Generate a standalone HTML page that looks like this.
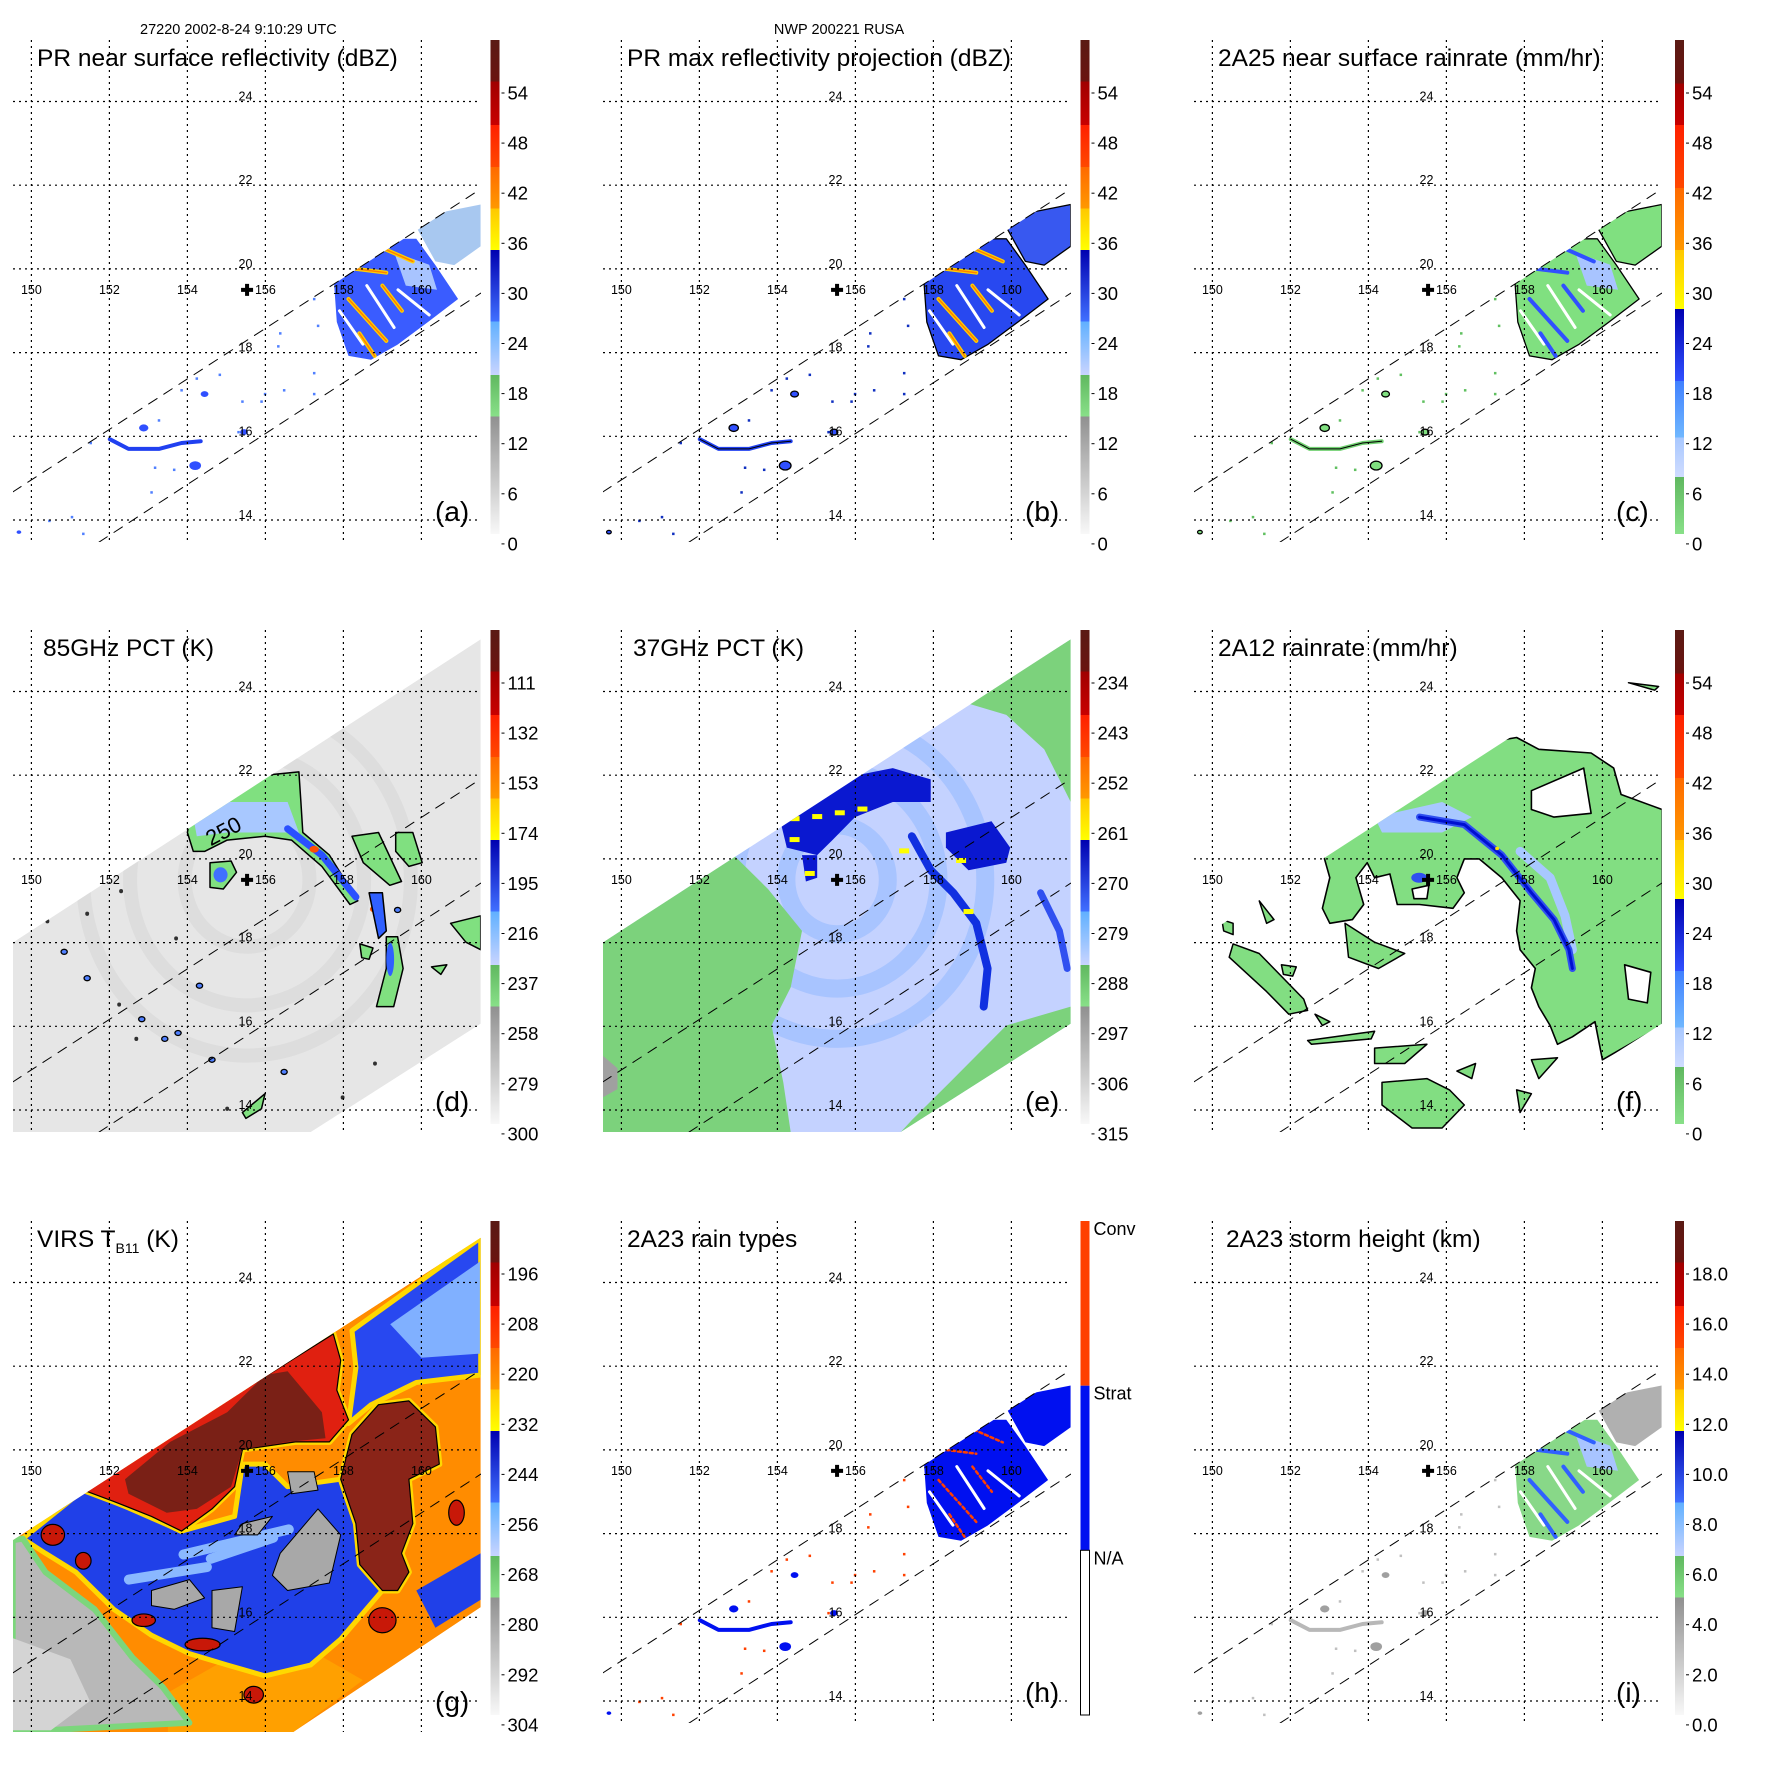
<!DOCTYPE html>
<html><head><meta charset="utf-8"><style>
html,body{margin:0;padding:0;background:#fff;}
svg{display:block;font-family:"Liberation Sans",Arial,sans-serif;}
</style></head><body>
<svg id="root" width="1771" height="1771" viewBox="0 0 1771 1771" xmlns="http://www.w3.org/2000/svg">
<defs>
<linearGradient id="g-refl" x1="0" y1="0" x2="0" y2="1">
<stop offset="0" stop-color="#5a1a14"/><stop offset="0.084" stop-color="#6a1410"/>
<stop offset="0.084" stop-color="#a00000"/><stop offset="0.172" stop-color="#c80000"/>
<stop offset="0.172" stop-color="#ff2000"/><stop offset="0.257" stop-color="#ff4800"/>
<stop offset="0.257" stop-color="#ff6a00"/><stop offset="0.341" stop-color="#ff9800"/>
<stop offset="0.341" stop-color="#ffc800"/><stop offset="0.425" stop-color="#ffff00"/>
<stop offset="0.425" stop-color="#0000b0"/><stop offset="0.57" stop-color="#4070ff"/>
<stop offset="0.57" stop-color="#60b0ff"/><stop offset="0.678" stop-color="#c8d4ff"/>
<stop offset="0.678" stop-color="#60b860"/><stop offset="0.762" stop-color="#88e088"/>
<stop offset="0.762" stop-color="#909090"/><stop offset="1" stop-color="#f8f8f8"/>
</linearGradient>
<linearGradient id="g-rain" x1="0" y1="0" x2="0" y2="1">
<stop offset="0" stop-color="#5a1a14"/><stop offset="0.088" stop-color="#6a1410"/>
<stop offset="0.088" stop-color="#a00000"/><stop offset="0.172" stop-color="#c80000"/>
<stop offset="0.172" stop-color="#ff2000"/><stop offset="0.30" stop-color="#ff4800"/>
<stop offset="0.30" stop-color="#ff6a00"/><stop offset="0.425" stop-color="#ff9800"/>
<stop offset="0.425" stop-color="#ffc800"/><stop offset="0.545" stop-color="#ffff00"/>
<stop offset="0.545" stop-color="#0000b0"/><stop offset="0.69" stop-color="#3050ff"/>
<stop offset="0.69" stop-color="#4080ff"/><stop offset="0.805" stop-color="#70b8ff"/>
<stop offset="0.805" stop-color="#a8c8ff"/><stop offset="0.885" stop-color="#d0dcff"/>
<stop offset="0.885" stop-color="#60b860"/><stop offset="1" stop-color="#88e088"/>
</linearGradient>
</defs>
</svg>
<script>
const NS='http://www.w3.org/2000/svg';
const root=document.getElementById('root');
const lonTicks=[150,152,154,156,158,160];
const latTicks=[14,16,18,20,22,24];
const lblRefl=['54','48','42','36','30','24','18','12','6','0'];
const lblD=['111','132','153','174','195','216','237','258','279','300'];
const lblE=['234','243','252','261','270','279','288','297','306','315'];
const lblG=['196','208','220','232','244','256','268','280','292','304'];
const lblI=['18.0','16.0','14.0','12.0','10.0','8.0','6.0','4.0','2.0','0.0'];
const lblH=['Conv','Strat','N/A'];
const center=[155.53,19.5];
const prUpper=[[149.52,14.67],[161.52,21.91]];
const prLower=[[151.73,13.47],[161.52,19.42]];
const prSwath=[[149.52,14.67],[161.52,21.91],[161.52,19.42],[151.73,13.47],[149.52,13.47]];
const mwSwath=[[149.52,18.0],[161.52,25.25],[161.52,16.06],[157.16,13.47],[149.52,13.47]];
const virsSwath=[[149.52,17.84],[161.52,25.07],[161.52,16.24],[156.72,13.26],[149.52,13.26]];
const prCluster=[[157.74,19.91],[158.32,20.18],[159.29,20.72],[159.87,20.72],[160.36,20.09],[160.94,19.28],[160.17,18.73],[159.39,18.19],[158.71,17.83],[158.13,17.92],[157.83,18.73]];
const prTopRight=[[159.87,21.0],[160.55,21.36],[161.52,21.54],[161.52,20.54],[160.84,20.09],[160.36,20.18]];
const prStreaks=[[[158.9,20.54],[159.78,20.18]],[[158.32,20.0],[159.1,19.91]],[[158.13,19.28],[159.1,18.28]],[[158.41,18.46],[158.8,17.92]],[[159.0,19.6],[159.5,19.0]]];
const prGaps=[[[157.9,19.0],[158.5,18.2]],[[159.4,19.5],[160.2,18.9]],[[158.6,19.6],[159.3,18.6]]];
const prArc=[[152.01,15.93],[152.49,15.7],[153.27,15.7],[153.85,15.84],[154.34,15.88]];
const prBlobs=[[152.88,16.2,0.12],[154.44,17.87,0.08],[154.44,17.01,0.1],[152.4,16.52,0.06],[154.2,15.3,0.15],[149.68,13.71,0.06],[155.45,16.1,0.1]];
const prDots=[[157.25,19.28],[157.35,18.64],[157.25,17.51],[156.38,18.46],[156.33,18.15],[155.99,17.01],[155.9,16.83],[155.41,16.83],[155.31,16.1],[155.02,18.1],[154.24,17.38],[153.85,17.1],[153.66,17.38],[153.27,16.38],[153.17,15.25],[153.66,15.2],[153.08,14.66],[151.52,15.84],[150.46,13.98],[151.04,14.07],[151.33,13.67],[157.25,17.01],[155.6,18.46],[154.83,17.47],[156.48,17.1]];
const dMain=[[154.05,20.9],[155.89,21.99],[156.86,22.08],[156.91,21.36],[156.96,20.63],[157.64,20.09],[158.37,19.0],[158.17,18.91],[157.45,19.82],[156.67,20.45],[155.99,20.54],[155.02,20.45],[154.44,20.18],[154.15,20.18],[154.0,20.63]];
const dMainBlue=[[154.15,21.0],[155.02,21.36],[156.57,21.36],[156.86,20.63],[155.99,20.63],[155.02,20.63],[154.24,20.54]];
const dArc=[[156.57,20.72],[157.45,20.09],[158.32,19.09]];
const dHot=[[157.25,20.23],[158.8,18.8],[159.2,17.7]];
const dBlobs=[
[[154.58,19.91],[155.12,19.95],[155.26,19.68],[154.92,19.28],[154.58,19.32]],
[[158.22,20.54],[158.9,20.63],[159.49,19.46],[159.19,19.37],[158.51,19.91]],
[[159.34,20.63],[159.78,20.63],[160.02,19.91],[159.68,19.82],[159.34,20.18]],
[[158.66,19.19],[159.0,19.19],[159.1,18.28],[158.9,18.1],[158.76,18.73]],
[[159.1,18.14],[159.39,18.14],[159.53,17.38],[159.29,16.47],[158.85,16.47],[159.1,17.38]],
[[160.75,18.46],[161.52,18.64],[161.52,17.83],[161.14,18.01]],
[[158.42,17.97],[158.76,17.87],[158.66,17.6],[158.47,17.64]],
[[155.41,13.94],[155.99,14.39],[155.9,14.03],[155.5,13.8]],
[[160.26,17.42],[160.65,17.47],[160.5,17.24]]];
const dSmall=[[150.84,17.78],[151.43,17.15],[154.31,16.97],[154.63,15.2],[153.76,15.84],[153.42,15.7],[152.83,16.17],[156.48,14.91],[159.39,18.78]];
const dDark=[[152.3,19.23],[151.43,18.69],[150.41,18.51],[153.71,18.1],[152.25,16.52],[152.69,15.7],[155.02,14.03],[157.98,14.3],[158.81,15.11]];
const eGreenL=[[149.52,18.0],[152.88,20.09],[153.76,19.28],[154.63,18.28],[154.34,16.93],[153.85,16.02],[154.15,14.66],[154.34,13.47],[149.52,13.47]];
const eGreenTR=[[158.9,23.71],[161.52,25.25],[161.52,21.36],[160.84,22.62],[159.87,23.44]];
const eGreenBR=[[157.16,13.47],[161.52,16.06],[161.52,16.47],[159.87,16.02],[158.42,14.66],[157.45,13.76]];
const eDark=[[154.05,21.0],[154.83,21.36],[155.99,21.99],[156.96,22.17],[157.93,21.9],[157.93,21.36],[156.96,21.36],[155.99,21.0],[155.41,20.45],[155.02,20.09],[154.63,20.18],[154.24,20.27]];
const eLobe=[[154.63,20.09],[155.02,20.09],[155.02,19.55],[154.73,19.46]];
const eDarkR=[[158.32,20.63],[159.49,20.9],[159.97,20.27],[159.87,19.91],[158.9,19.73],[158.32,20.27]];
const eArc=[[157.45,20.54],[157.93,19.73],[158.51,19.19],[159.1,18.46],[159.39,17.38],[159.29,16.47]];
const eArc2=[[160.75,19.19],[161.23,18.28],[161.43,17.38]];
const eYellow=[[154.44,20.95],[155.02,21.0],[155.6,21.09],[156.18,21.18],[154.44,20.45],[154.83,19.64],[157.25,20.18],[158.71,19.95],[158.9,18.73]];
const fMain=[[152.82,20.18],[157.22,22.81],[157.8,22.9],[158.37,22.62],[159.71,22.53],[160.29,22.17],[160.48,21.54],[161.53,21.18],[161.53,16.02],[160.0,15.2],[159.81,16.11],[159.23,15.75],[158.85,15.57],[158.66,16.02],[158.37,16.47],[158.18,16.92],[158.28,17.38],[157.89,17.83],[157.8,18.28],[157.89,19.0],[157.42,19.55],[156.84,20.0],[156.46,20.0],[156.27,19.55],[156.46,19.19],[156.17,18.82],[155.31,18.91],[154.74,18.91],[154.55,19.64],[154.16,19.55],[153.97,19.91],[153.68,19.55],[153.88,18.91],[153.59,18.55],[153.01,18.46],[152.82,18.82],[153.01,19.55]];
const fHoles=[[[158.18,21.63],[159.52,22.17],[159.71,21.09],[158.76,21.0],[158.18,21.18]],[[160.57,17.47],[161.24,17.29],[161.15,16.56],[160.67,16.65]],[[155.12,19.28],[155.55,19.37],[155.5,19.05],[155.17,19.05]]];
const fLight=[[154.16,21.0],[155.89,21.36],[156.65,21.0],[155.89,20.63],[154.35,20.63]];
const fArc=[[155.31,21.0],[156.46,20.82],[157.42,20.09],[158.18,19.19],[158.76,18.55],[159.14,17.83],[159.23,17.38]];
const fArc2=[[157.89,20.18],[158.66,19.55],[159.04,18.64],[159.23,17.83]];
const fIslands=[
[[150.53,17.97],[151.2,17.74],[152.34,16.65],[152.44,16.38],[151.96,16.29],[151.39,16.83],[150.43,17.65]],
[[152.44,15.66],[154.16,15.88],[154.07,15.7],[152.54,15.57]],
[[154.16,15.48],[155.5,15.57],[154.93,15.11],[154.16,15.11]],
[[154.35,14.66],[155.5,14.75],[156.08,14.48],[156.46,14.12],[155.89,13.57],[155.12,13.57],[154.35,14.12]],
[[156.27,14.93],[156.75,15.11],[156.65,14.75]],
[[157.8,14.48],[158.18,14.39],[157.89,13.94]],
[[158.18,15.2],[158.85,15.25],[158.37,14.75]],
[[153.4,18.46],[154.16,18.01],[154.93,17.74],[154.26,17.38],[153.49,17.65]],
[[150.24,18.55],[150.53,18.46],[150.53,18.19],[150.29,18.28]],
[[151.77,17.47],[152.15,17.42],[152.06,17.2],[151.82,17.24]],
[[152.63,16.29],[153.01,16.11],[152.82,16.02]],
[[160.67,24.21],[161.44,24.12],[161.34,24.03]],
[[151.2,19.0],[151.58,18.55],[151.39,18.46]]];
const gGray=[[149.52,17.84],[149.78,17.88],[150.36,17.08],[151.62,16.19],[152.59,15.04],[153.37,14.33],[154.05,13.48],[149.52,13.26]];
const gBlue=[[149.78,17.88],[151.33,19.04],[152.11,18.77],[153.85,18.06],[155.21,18.41],[155.41,19.66],[155.99,19.66],[156.57,19.12],[157.93,19.3],[158.32,18.24],[158.42,17.26],[159.0,16.64],[157.93,15.48],[157.16,14.86],[155.99,14.6],[155.02,14.86],[154.05,15.13],[153.08,15.57],[152.11,16.19],[151.14,17.08],[150.36,17.53]];
const gBlueTR=[[158.22,22.85],[161.52,25.07],[161.52,21.79],[159.87,21.61],[158.71,21.08],[158.13,20.63],[158.32,21.97]];
const gBlueBR=[[159.87,16.64],[161.52,17.53],[161.52,16.42],[160.36,15.75]];
const gRed=[[151.33,19.04],[157.74,22.77],[157.93,22.14],[157.83,21.43],[158.13,20.72],[157.64,20.19],[156.77,20.19],[155.41,20.01],[155.21,19.12],[154.63,18.59],[153.85,18.06],[153.08,18.41],[152.11,18.77]];
const gDkRed=[[152.4,19.3],[153.56,20.19],[155.02,20.9],[155.99,21.79],[156.57,21.88],[157.45,20.9],[157.54,20.28],[156.57,20.19],[155.41,20.01],[155.12,19.12],[154.24,18.59],[153.47,18.5],[152.49,18.95]];
const gDkRedR=[[158.22,20.37],[158.9,21.08],[159.68,21.17],[160.36,20.55],[160.46,19.66],[159.68,19.3],[159.78,18.24],[159.49,17.53],[159.68,17.08],[159.39,16.64],[159.0,16.64],[158.42,17.26],[158.32,18.24],[157.93,19.3]];
const gPatches=[
[[154.63,16.64],[155.41,16.73],[155.21,15.66],[154.63,15.75]],
[[156.38,17.53],[157.35,18.59],[157.93,17.97],[157.64,16.82],[156.57,16.64],[156.18,17.0]],
[[153.08,16.64],[154.05,16.9],[154.44,16.46],[153.66,16.19],[153.08,16.28]],
[[155.41,18.24],[156.18,18.41],[155.8,17.97],[155.21,17.97]],
[[156.57,19.48],[157.25,19.48],[157.35,19.04],[156.67,18.95]]];
const gStreaks=[[[153.9,17.5],[156.6,18.1]],[[154.6,17.4],[156.2,17.9]],[[152.5,16.9],[154.5,17.2]]];
const gRedBlobs=[[154.39,15.35,0.45,0.15],[155.7,14.15,0.25,0.2],[150.55,17.97,0.3,0.25],[151.33,17.35,0.2,0.2],[152.88,15.93,0.3,0.15],[159.0,15.93,0.35,0.3],[160.9,18.5,0.2,0.3]];

function X(lon){return 31.4+(lon-150)*39;}
function Y(lat){return 101.5+(24-lat)*41.85;}
function pts(arr){return arr.map(p=>X(p[0]).toFixed(1)+','+Y(p[1]).toFixed(1)).join(' ');}
function mk(tag,attrs,parent){const e=document.createElementNS(NS,tag);for(const k in attrs)e.setAttribute(k,attrs[k]);parent.appendChild(e);return e;}
function poly(g,arr,fill,stroke,sw,name){
  const e=mk('polygon',{points:pts(arr),fill:fill,stroke:stroke||'none','stroke-width':sw||0,'stroke-linejoin':'round'},g);
  
  
  return e;}
function line(g,arr,color,w,name,dash){
  const e=mk('polyline',{points:pts(arr),fill:'none',stroke:color,'stroke-width':w,'stroke-linecap':'round','stroke-linejoin':'round'},g);
  if(dash)e.setAttribute('stroke-dasharray',dash);
  
  
  return e;}
function ell(g,lon,lat,rx,ry,fill,stroke,name){
  const e=mk('ellipse',{cx:X(lon),cy:Y(lat),rx:rx*39,ry:ry*41.85,fill:fill,stroke:stroke||'none','stroke-width':1.3},g);
  
  
  return e;}

const panels=[
 {id:'a',ox:0,oy:0,title:'PR near surface reflectivity (dBZ)',tx:37,grad:'g-refl',labels:lblRefl,clip:prSwath},
 {id:'b',ox:590,oy:0,title:'PR max reflectivity projection (dBZ)',tx:37,grad:'g-refl',labels:lblRefl,clip:prSwath},
 {id:'c',ox:1181,oy:0,title:'2A25 near surface rainrate (mm/hr)',tx:37,grad:'g-rain',labels:lblRefl,clip:prSwath},
 {id:'d',ox:0,oy:590,title:'85GHz PCT (K)',tx:43,grad:'g-refl',labels:lblD,clip:mwSwath},
 {id:'e',ox:590,oy:590,title:'37GHz PCT (K)',tx:43,grad:'g-refl',labels:lblE,clip:mwSwath},
 {id:'f',ox:1181,oy:590,title:'2A12 rainrate (mm/hr)',tx:37,grad:'g-rain',labels:lblRefl,clip:mwSwath},
 {id:'g',ox:0,oy:1181,title:'VIRS',tx:37,grad:'g-refl',labels:lblG,clip:virsSwath},
 {id:'h',ox:590,oy:1181,title:'2A23 rain types',tx:37,grad:null,labels:lblH,clip:prSwath},
 {id:'i',ox:1181,oy:1181,title:'2A23 storm height (km)',tx:45,grad:'g-refl',labels:lblI,clip:prSwath}];

function drawPR(g,p){
  const id=p.id;
  let cf,tf,cs,arcC,blobC,dotC,stC;
  if(id==='a'){cf='#3a5cff';tf='#a8c8f0';cs='none';arcC='#2040f0';blobC='#3050ff';dotC='#5080ff';stC='#ffd000';}
  if(id==='b'){cf='#2848f0';tf='#3858f0';cs='#000';arcC='#2040f0';blobC='#3050ff';dotC='#1030c0';stC='#ffd000';}
  if(id==='c'){cf='#80e080';tf='#80e080';cs='#000';arcC='#70d070';blobC='#80e080';dotC='#60c060';stC='#3050ff';}
  if(id==='h'){cf='#0010f0';tf='#0010f0';cs='none';arcC='#0010f0';blobC='#0010f0';dotC='#ff4000';stC='#ff4000';}
  if(id==='i'){cf='#88d888';tf='#b0b0b0';cs='none';arcC='#b8b8b8';blobC='#a0a0a0';dotC='#c0c0c0';stC='#3060ff';}
  poly(g,prTopRight,tf,cs,1.3,'rain-area-northeast');
  poly(g,prCluster,cf,cs,1.3,'rain-cluster');
  if(id==='a'||id==='i'||id==='c'){poly(g,[[159.3,20.4],[160.2,20.1],[160.4,19.5],[159.6,19.6]],'#a8c4ff','none',0,'light-rain-patch');}
  for(const s of prGaps){line(g,s,'#fff',3,'cluster-gap');}
  for(const s of prStreaks){
    line(g,s,stC,id==='h'?2.5:4,'convective-streak',id==='h'?'3,3':null);
    if(id==='a'||id==='b')line(g,s,'#ff8000',1.5,'convective-core');
  }
  line(g,prArc,arcC,4,'rainband-arc');
  if(cs!=='none')line(g,prArc,'#000',1,'rainband-outline');
  for(const b of prBlobs){ell(g,b[0],b[1],b[2],b[2]*0.7,blobC,cs==='none'?null:'#000','rain-blob');}
  for(const d of prDots){
    const e=mk('rect',{x:X(d[0])-1.2,y:Y(d[1])-1.2,width:2.5,height:2.5,fill:dotC},g);
    
    
  }
}
function drawD(g){
  poly(g,mwSwath,'#e6e6e6','none',0,'swath-background');
  for(const r of [4.2,3.0,1.6]){
    const e=mk('ellipse',{cx:X(center[0]),cy:Y(center[1]),rx:r*39,ry:r*41.85,fill:'none',stroke:'#cccccc','stroke-width':14,'stroke-opacity':0.35},g);
    
    
  }
  poly(g,dMain,'#80e080','#000',1.5,'ice-scattering-area');
  poly(g,dMainBlue,'#a8c8ff','none',0,'ice-scattering-core');
  line(g,dArc,'#2a50ff',7,'eyewall-arc');
  for(const h of dHot){ell(g,h[0],h[1],0.12,0.08,'#ff5000',null,'cold-spot');}
  dBlobs.forEach((b,i)=>{poly(g,b,i===3?'#3060ff':'#80e080','#000',1.5,'convective-cell');});
  ell(g,154.85,19.62,0.18,0.18,'#4070ff',null,'cell-core');
  ell(g,159.2,17.6,0.1,0.4,'#3060ff',null,'cell-core');
  for(const s of dSmall){ell(g,s[0],s[1],0.08,0.06,'#5080ff','#000','small-cell');}
  for(const s of dDark){ell(g,s[0],s[1],0.05,0.05,'#303030',null,'dark-pixel');}
  const t=mk('text',{x:X(154.6),y:Y(20.3),'font-size':22,transform:'rotate(-28 '+X(154.6)+' '+Y(20.3)+')'},g);
  t.textContent='250';
  
  
}
function drawE(g){
  poly(g,mwSwath,'#c4d2ff','none',0,'swath-background');
  for(const r of [1.3,2.6,3.8]){
    const e=mk('ellipse',{cx:X(center[0]),cy:Y(center[1]),rx:r*39,ry:r*41.85,fill:'none',stroke:'#80b0ff','stroke-width':18,'stroke-opacity':0.4},g);
    
    
  }
  poly(g,eGreenL,'#7cd27c','none',0,'warm-area-west');
  poly(g,eGreenTR,'#7cd27c','none',0,'warm-area-northeast');
  poly(g,eGreenBR,'#7cd27c','none',0,'warm-area-southeast');
  poly(g,eDark,'#0a18d0','none',0,'cold-area-north');
  poly(g,eLobe,'#0a18d0','none',0,'cold-lobe');
  poly(g,eDarkR,'#0a18d0','none',0,'cold-area-east');
  line(g,eArc,'#1030e0',8,'eyewall-arc');
  line(g,eArc2,'#3050f0',7,'outer-band');
  for(const y of eYellow){
    const e=mk('rect',{x:X(y[0])-5,y:Y(y[1])-3,width:10,height:5,fill:'#ffff00'},g);
    
    
  }
  poly(g,[[149.52,15.3],[149.9,15.0],[149.9,14.5],[149.52,14.3]],'#a0a0a0','none',0,'gray-pixels');
}
function drawF(g){
  poly(g,fMain,'#82de82','#000',1.6,'rain-area-main');
  poly(g,fLight,'#a8c8ff','none',0,'light-rain');
  line(g,fArc2,'#a8c8ff',9,'outer-rain-band');
  line(g,fArc,'#3050f0',7,'eyewall-rain');
  line(g,fArc,'#0010d0',3,'eyewall-core');
  for(const h of fHoles){poly(g,h,'#fff','#000',1.6,'no-rain-hole');}
  for(const s of fIslands){poly(g,s,'#82de82','#000',1.5,'rain-patch');}
  ell(g,155.3,19.55,0.2,0.12,'#3050f0',null,'rain-core');
  ell(g,157.3,20.25,0.05,0.04,'#ffe000',null,'heavy-pixel');
}
function drawG(g){
  poly(g,virsSwath,'#ff8c00','none',0,'swath-background');
  poly(g,[[153.5,13.26],[156.72,13.26],[158.5,14.5],[157,15.3],[155,15.0],[153.5,14.2]],'#ffa000','none',0,'warm-cloud');
  poly(g,gBlue,'#2040e8','#ffd800',5,'mid-cloud-band');
  poly(g,gBlueTR,'#2848f0','#ffd800',5,'cloud-northeast');
  poly(g,[[159.2,23.0],[161.5,24.5],[161.5,22.3],[160.0,22.2]],'#80b0ff','none',0,'thin-cloud');
  poly(g,gBlueBR,'#2040e8','none',0,'cloud-southeast');
  for(const s of gStreaks){line(g,s,'#8ab8ff',10,'cloud-streak');}
  poly(g,gGray,'#b8b8b8','#7cd67c',6,'clear-sky-west');
  poly(g,[[149.52,15.5],[151,15],[151.5,14],[150.5,13.3],[149.52,13.3]],'#d4d4d4','none',0,'clear-sky-warm');
  for(const pch of gPatches){poly(g,pch,'#a8a8a8','#000',1,'clear-gap');}
  poly(g,gRed,'#e02010','#ffd800',6,'cold-cloud-top');
  poly(g,gRed,'#e02010','#000',1.2,'cold-cloud-outline');
  poly(g,gDkRed,'#7a2016','none',0,'coldest-cloud-top');
  poly(g,gDkRedR,'#c81808','#ffd800',6,'cold-cloud-east');
  poly(g,gDkRedR,'#8a2418','#000',1.2,'coldest-cloud-east');
  for(const b of gRedBlobs){
    const e=mk('ellipse',{cx:X(b[0]),cy:Y(b[1]),rx:b[2]*39,ry:b[3]*41.85,fill:'#c81808',stroke:'#000','stroke-width':1.2},g);
    
    
  }
}

panels.forEach(p=>{
  const g=mk('g',{transform:'translate('+p.ox+','+p.oy+')'},root);
  
  
  const cp=mk('clipPath',{id:'clip-'+p.id},g);
  mk('rect',{x:13,y:40,width:468,height:p.id==='g'?511:502},cp);
  const cp2=mk('clipPath',{id:'swclip-'+p.id},g);
  mk('polygon',{points:pts(p.clip)},cp2);
  const og=mk('g',{'clip-path':'url(#clip-'+p.id+')'},g);
  
  
  const dg=mk('g',{'clip-path':'url(#swclip-'+p.id+')'},og);
  
  
  if(['a','b','c','h','i'].includes(p.id))drawPR(dg,p);
  if(p.id==='d')drawD(dg);
  if(p.id==='e')drawE(dg);
  if(p.id==='f')drawF(dg);
  if(p.id==='g')drawG(dg);
  for(const lon of lonTicks){
    const l=mk('line',{x1:X(lon),x2:X(lon),y1:40,y2:p.id==='g'?551:542,stroke:'#000','stroke-width':1.2,'stroke-dasharray':'2,4'},g);
    
    
    const t=mk('text',{x:X(lon),y:294,'font-size':12.5,'text-anchor':'middle'},g);
    t.textContent=String(lon);
    
    
  }
  for(const lat of latTicks){
    const l=mk('line',{x1:13,x2:481,y1:Y(lat),y2:Y(lat),stroke:'#000','stroke-width':1.2,'stroke-dasharray':'2,4'},g);
    
    
    const t=mk('text',{x:245.5,y:Y(lat)-1,'font-size':12.5,'text-anchor':'middle'},g);
    t.textContent=String(lat);
    
    
  }
  const cg=mk('g',{'clip-path':'url(#clip-'+p.id+')'},g);
  
  
  line(cg,prUpper,'#000',1,'pr-swath-edge-upper','10,8');
  line(cg,prLower,'#000',1,'pr-swath-edge-lower','10,8');
  const cx=X(center[0]),cy=Y(center[1]);
  const cross=mk('path',{d:'M'+(cx-6)+' '+cy+'H'+(cx+6)+'M'+cx+' '+(cy-6)+'V'+(cy+6),stroke:'#000','stroke-width':4},g);
  
  
  const tt=mk('text',{x:p.tx,y:66,'font-size':24.5},g);
  if(p.id==='g'){
    tt.textContent='VIRS T';
    const sb=mk('tspan',{'font-size':14,dy:6},tt);sb.textContent='B11';
    const rs=mk('tspan',{dy:-6},tt);rs.textContent=' (K)';
  } else tt.textContent=p.title;
  
  
  const pl=mk('text',{x:435,y:p.id==='g'?530:521,'font-size':28},g);
  pl.textContent='('+p.id+')';
  
  
  const cbx=p.ox>1000?494:490.5;
  if(p.grad){
    const r=mk('rect',{x:cbx,y:40,width:9,height:494,fill:'url(#'+p.grad+')'},g);
    
    
    p.labels.forEach((lb,i)=>{
      const yy=93+i*50.1;
      const tk=mk('line',{x1:cbx+11,x2:cbx+14,y1:yy,y2:yy,stroke:'#000','stroke-width':1},g);
      
      
      const t=mk('text',{x:cbx+17,y:yy+6.5,'font-size':18.5},g);
      t.textContent=lb;
      
      
    });
  } else {
    const segs=[['#ff4000',40],['#0010f0',204.7],['#ffffff',369.3]];
    segs.forEach((s,i)=>{
      const r=mk('rect',{x:cbx,y:s[1],width:9,height:164.7,fill:s[0]},g);
      
      
      const t=mk('text',{x:cbx+13,y:s[1]+14,'font-size':18},g);
      t.textContent=p.labels[i];
      
      
    });
    const ob=mk('rect',{x:cbx,y:369.3,width:9,height:164.7,fill:'none',stroke:'#000','stroke-width':1},g);
    
    
  }
});
const h1=mk('text',{x:140,y:34,'font-size':14.5},root);
h1.textContent='27220 2002-8-24 9:10:29 UTC';


const h2=mk('text',{x:839,y:34,'font-size':14.5,'text-anchor':'middle'},root);
h2.textContent='NWP 200221 RUSA';


</script>
</body></html>
